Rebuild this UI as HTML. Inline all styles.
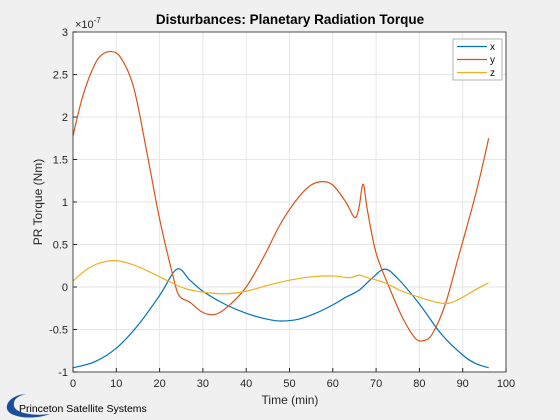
<!DOCTYPE html>
<html><head><meta charset="utf-8"><style>
body{margin:0;background:#f0f0f0;}
svg{display:block;font-family:"Liberation Sans",sans-serif;}
</style></head><body>
<svg id="chart" width="560" height="420">
<rect x="73" y="32" width="433" height="340" fill="#fff"/>
<g id="grid"></g>
<g id="series"></g>
<rect x="73" y="32" width="433" height="340" fill="none" stroke="#262626" stroke-width="0.8"/>
<g id="ticks"></g>
<text x="290" y="24" text-anchor="middle" font-size="13.5" font-weight="bold" fill="#000">Disturbances: Planetary Radiation Torque</text>
<text x="290" y="404" text-anchor="middle" font-size="12" fill="#262626">Time (min)</text>
<text transform="translate(42,202) rotate(-90)" text-anchor="middle" font-size="12" fill="#262626">PR Torque (Nm)</text>
<text x="75" y="28" font-size="11" fill="#262626">×10<tspan dy="-5" font-size="8">-7</tspan></text>
<g>
<rect x="453" y="39" width="49" height="41" fill="#fff" stroke="#a0a0a0" stroke-width="0.8"/>
<g><line x1="457" y1="46.5" x2="487" y2="46.5" stroke="#0072bd" stroke-width="1.2"/><text x="490" y="50" font-size="10">x</text></g>
<g><line x1="457" y1="59.5" x2="487" y2="59.5" stroke="#d95319" stroke-width="1.2"/><text x="490" y="63" font-size="10">y</text></g>
<g><line x1="457" y1="72.5" x2="487" y2="72.5" stroke="#edb120" stroke-width="1.2"/><text x="490" y="76" font-size="10">z</text></g>
</g>
<g>
<path d="M26 394 C8 395 0 410 14 415 C24 419 40 418 50 414 C36 416 16 414 14 406 C13 399 18 396 26 394 Z" fill="#1a4f9c"/>
<text x="19" y="412" font-size="10.5" fill="#000">Princeton Satellite Systems</text>
</g>
</svg>
<script>
const xTicks=[0,10,20,30,40,50,60,70,80,90,100];
const yTicks=[-1,-0.5,0,0.5,1,1.5,2,2.5,3];
const yTickLabels=["-1","-0.5","0","0.5","1","1.5","2","2.5","3"];
const tX=[0,5,10,15,20,24,27,30,35,40,45,48,52,56,60,63,66,69,72,75,80,85,90,93,96];
const vX=[-0.95,-0.88,-0.72,-0.45,-0.1,0.21,0.08,-0.05,-0.2,-0.31,-0.38,-0.40,-0.38,-0.31,-0.21,-0.12,-0.04,0.1,0.21,0.1,-0.2,-0.55,-0.8,-0.9,-0.95];
const tY=[0,2,4,6,8.5,11,14,17,20,23,24.5,27,30,33,36,40,44,48,52,55,57.5,60,63,65,66,67,68,70,73,76,79,81,83,86,89,92,94,96];
const vY=[1.78,2.2,2.5,2.7,2.77,2.7,2.35,1.6,0.8,0.15,-0.1,-0.18,-0.3,-0.32,-0.22,0,0.35,0.75,1.05,1.2,1.24,1.2,1.0,0.82,0.92,1.21,0.9,0.4,0.0,-0.35,-0.6,-0.63,-0.55,-0.2,0.35,0.9,1.3,1.75];
const tZ=[0,3,6,10,14,18,22,26,30,35,40,45,50,55,60,64,66,68,72,76,80,84,87,90,93,96];
const vZ=[0.07,0.2,0.28,0.31,0.26,0.17,0.07,-0.02,-0.06,-0.08,-0.05,0.02,0.08,0.12,0.13,0.11,0.14,0.11,0.05,-0.05,-0.12,-0.18,-0.19,-0.12,-0.03,0.05];
const NS="http://www.w3.org/2000/svg";
function sx(t){return 73+t*4.33;}
function sy(v){return 32+(3-v)*85;}
const grid=document.getElementById('grid'),ticks=document.getElementById('ticks'),ser=document.getElementById('series');
xTicks.forEach(t=>{
 const l=document.createElementNS(NS,'line');
 
 
 l.setAttribute('x1',sx(t));l.setAttribute('x2',sx(t));l.setAttribute('y1',32);l.setAttribute('y2',372);
 l.setAttribute('stroke','#e6e6e6');grid.appendChild(l);
 const k=document.createElementNS(NS,'line');
 
 
 k.setAttribute('x1',sx(t));k.setAttribute('x2',sx(t));k.setAttribute('y1',372);k.setAttribute('y2',368);
 k.setAttribute('stroke','#262626');ticks.appendChild(k);
 const tx=document.createElementNS(NS,'text');
 
 
 tx.setAttribute('x',sx(t));tx.setAttribute('y',387);tx.setAttribute('text-anchor','middle');tx.setAttribute('font-size','11');tx.setAttribute('fill','#262626');
 tx.textContent=t;ticks.appendChild(tx);
});
yTicks.forEach((v,i)=>{
 const l=document.createElementNS(NS,'line');
 
 
 l.setAttribute('x1',73);l.setAttribute('x2',506);l.setAttribute('y1',sy(v));l.setAttribute('y2',sy(v));
 l.setAttribute('stroke','#e6e6e6');grid.appendChild(l);
 const k=document.createElementNS(NS,'line');
 
 
 k.setAttribute('x1',73);k.setAttribute('x2',77);k.setAttribute('y1',sy(v));k.setAttribute('y2',sy(v));
 k.setAttribute('stroke','#262626');ticks.appendChild(k);
 const tx=document.createElementNS(NS,'text');
 
 
 tx.setAttribute('x',68);tx.setAttribute('y',sy(v)+4);tx.setAttribute('text-anchor','end');tx.setAttribute('font-size','11');tx.setAttribute('fill','#262626');
 tx.textContent=yTickLabels[i];ticks.appendChild(tx);
});
function smoothPath(ts,vs){
 const P=ts.map((t,i)=>[sx(t),sy(vs[i])]);
 let d='M'+P[0][0]+','+P[0][1];
 for(let i=0;i<P.length-1;i++){
  const p0=P[Math.max(0,i-1)],p1=P[i],p2=P[i+1],p3=P[Math.min(P.length-1,i+2)];
  const c1=[p1[0]+(p2[0]-p0[0])/6,p1[1]+(p2[1]-p0[1])/6];
  const c2=[p2[0]-(p3[0]-p1[0])/6,p2[1]-(p3[1]-p1[1])/6];
  d+=' C'+c1[0]+','+c1[1]+' '+c2[0]+','+c2[1]+' '+p2[0]+','+p2[1];
 }
 return d;
}
function drawLine(ts,vs,color,name){
 const p=document.createElementNS(NS,'path');
 
 
 p.setAttribute('d',smoothPath(ts,vs));
 p.setAttribute('fill','none');p.setAttribute('stroke',color);p.setAttribute('stroke-width','1.2');p.setAttribute('stroke-linejoin','round');
 ser.appendChild(p);
}
drawLine(tX,vX,'#0072bd','series-x');
drawLine(tY,vY,'#d95319','series-y');
drawLine(tZ,vZ,'#edb120','series-z');
</script>
</body></html>
